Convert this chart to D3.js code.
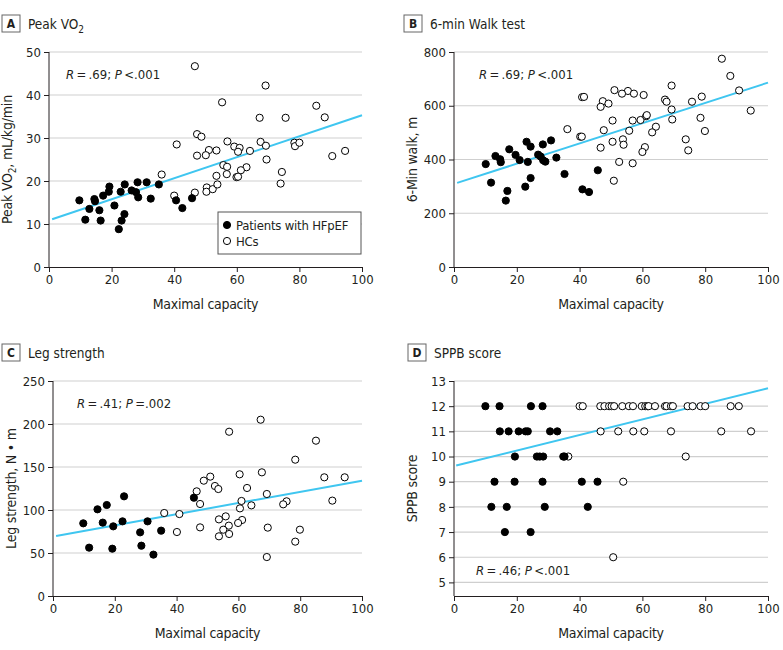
<!DOCTYPE html>
<html>
<head>
<meta charset="utf-8">
<title>Maximal capacity correlations</title>
<script src="https://d3js.org/d3.v7.min.js"></script>
<style>
  body { margin: 0; background: #fff; }
  svg text { font-family: "DejaVu Sans Condensed", "Liberation Sans Narrow", sans-serif; fill: #231f20; }
  .grid line { stroke: #cfcfcf; stroke-width: 1.2; }
  .axis path, .axis line { stroke: #231f20; stroke-width: 1; }
  .fit { fill: none; stroke: #3fc6f0; stroke-width: 2; }
  .hf { fill: #000; stroke: #000; stroke-width: 1; }
  .hc { fill: #fff; stroke: #000; stroke-width: 1; }
</style>
</head>
<body>
<svg width="783" height="650"></svg>
<script>
// ---- data ----
var capTicks = [0, 20, 40, 60, 80, 100];

var peakTicks = [0, 10, 20, 30, 40, 50];
var peakHf = [[9.7,15.5],[11.6,11],[12.9,13.5],[14.5,15.8],[14.7,15.3],[16.1,13.2],[16.5,10.8],[17.3,16.6],
  [19.1,17.5],[19.3,18.7],[20.9,14.3],[22.3,8.8],[22.9,17.5],[23.2,10.8],[24.1,12.3],[24.2,19.2],[26.4,17.8],
  [27.8,17.4],[28.3,19.7],[28.5,16.2],[31.2,19.7],[32.5,15.9],[35.1,19.2],[40.6,15.5],[42.6,13.7],[45.7,16.0]];
var peakHc = [[46.6,46.7],[69.2,42.2],[55.3,38.3],[85.4,37.5],[88.1,34.8],[67.3,34.7],[75.6,34.7],[47.3,30.9],
  [48.7,30.3],[40.8,28.5],[57.0,29.2],[67.6,29.1],[69.3,28.2],[78.4,28.9],[78.6,28.1],[80.0,28.9],[59.2,28.0],
  [60.9,27.7],[51.1,27.2],[53.5,27.1],[50.1,26.0],[47.3,25.9],[60.4,26.8],[64.2,27.0],[94.6,27.0],[90.5,25.8],
  [69.5,25.0],[36.0,21.5],[55.7,23.7],[56.9,23.3],[53.5,21.2],[56.8,21.6],[63.1,23.2],[61.3,22.5],[59.9,20.9],
  [60.4,21.0],[74.4,22.1],[74.0,19.4],[40.0,16.6],[46.6,17.3],[50.4,18.5],[50.3,17.5],[52.3,18.1],[53.8,19.2]];
var peakFit = [[1, 11.1], [100, 35.3]];

var walkTicks = [0, 200, 400, 600, 800];
var walkHf = [[10.1,383],[11.8,314],[13.2,413],[14.7,401],[14.9,390],[16.5,247],[17.0,283],[17.6,438],
  [19.6,417],[20.9,398],[22.7,299],[23.1,466],[23.5,391],[24.4,448],[24.4,331],[26.8,418],[27.6,411],
  [28.3,456],[28.4,397],[29.1,392],[30.9,471],[32.6,407],[35.2,346],[40.9,289],[43.0,279],[45.8,360]];
var walkHc = [[85.3,775],[88.0,711],[69.3,675],[90.8,657],[51.1,658],[55.4,655],[53.5,645],[57.3,645],
  [60.4,640],[40.8,632],[41.4,633],[47.4,617],[49.2,608],[46.7,596],[67.2,623],[67.7,615],[75.8,615],
  [78.9,634],[69.3,586],[69.5,549],[78.5,555],[36.1,513],[50.5,545],[56.9,545],[59.4,547],[61.2,561],
  [61.4,565],[64.3,522],[63.1,501],[55.8,507],[47.7,509],[40.2,485],[40.7,485],[79.9,506],[73.8,475],
  [74.6,434],[94.5,582],[50.5,466],[53.8,475],[54.0,455],[46.7,444],[60.8,446],[60.0,428],[52.6,391],
  [56.9,386],[50.9,321]];
var walkFit = [[1, 313], [100, 686]];

var legTicks = [0, 50, 100, 150, 200, 250];
var legHf = [[9.8,84.5],[11.7,56.2],[14.4,100.8],[16.1,85.3],[17.4,105.8],[19.2,55.0],[19.5,81.0],
  [22.5,86.8],[23.0,115.9],[28.2,74.0],[28.6,58.5],[30.6,86.8],[32.5,48.1],[35.0,76.0],[45.6,114.3]];
var legHc = [[67.2,205],[57.0,191],[85.1,180.6],[78.4,158.5],[67.6,143.8],[60.4,141.5],[50.9,138.8],
  [87.8,138.0],[94.4,138.0],[48.8,134.1],[52.4,127.9],[53.5,124.4],[62.8,125.6],[46.5,121.7],[69.2,118.6],
  [61.0,110.5],[90.4,110.9],[75.6,110.1],[74.5,106.6],[47.6,107.0],[64.2,105.4],[60.5,101.9],[36.0,96.5],
  [40.9,95.3],[55.9,92.6],[53.7,89.1],[61.2,88.4],[59.9,84.9],[56.9,81.8],[47.6,79.8],[69.5,79.5],
  [55.1,77.1],[79.9,77.1],[40.1,74.4],[57.0,72.1],[53.7,69.4],[78.4,63.2],[69.2,45.3]];
var legFit = [[1, 69.8], [100, 134.1]];

var sppbTicks = [5, 6, 7, 8, 9, 10, 11, 12, 13];
var sppbHf = [[10.0,12],[14.5,12],[24.5,12],[28.2,12],
  [14.6,11],[17.4,11],[20.6,11],[22.8,11],[23.5,11],[30.6,11],[32.9,11],
  [19.4,10],[26.4,10],[27.3,10],[28.4,10],[34.8,10],[35.2,10],
  [12.9,9],[19.3,9],[28.2,9],[40.7,9],[45.7,9],
  [11.9,8],[16.8,8],[28.9,8],[42.6,8],
  [16.2,7],[24.4,7]];
var sppbHc = [[40.0,12],[41.0,12],[46.6,12],[47.9,12],[49.4,12],[50.2,12],[51.0,12],[53.6,12],[55.7,12],
  [57.0,12],[59.8,12],[60.9,12],[61.6,12],[62.0,12],[64.0,12],[67.2,12],[67.7,12],[69.1,12],[69.7,12],
  [74.4,12],[76.0,12],[78.5,12],[80.0,12],[88.1,12],[90.7,12],
  [46.7,11],[52.3,11],[57.1,11],[60.6,11],[69.1,11],[85.1,11],[94.6,11],
  [36.4,10],[73.8,10],[53.9,9],[50.7,6]];
var sppbFit = [[0.7, 9.64], [100, 12.71]];

var legendLabels = ["Patients with HFpEF", "HCs"];

var svg = d3.select("svg");
var thin = "\u2009";

function panel(o) {
  var g = svg.append("g");
  var x = d3.scaleLinear().domain([0, 100]).range([o.left, o.right]);
  var y = d3.scaleLinear().domain(o.yDomain).range([o.bottom, o.top]);

  // panel letter + title
  g.append("rect").attr("x", o.boxX).attr("y", o.boxY).attr("width", 18).attr("height", 17)
    .attr("fill", "#fff").attr("stroke", "#666").attr("stroke-width", 1);
  g.append("text").attr("x", o.boxX + 9).attr("y", o.boxY + 13).attr("text-anchor", "middle")
    .attr("font-weight", "bold").attr("font-size", 12).text(o.letter);
  var t = g.append("text").attr("x", o.boxX + 26).attr("y", o.boxY + 14).attr("font-size", 13.5);
  t.append("tspan").text(o.title);
  if (o.titleSub) t.append("tspan").attr("font-size", 10).attr("dy", 4).text(o.titleSub);

  // gridlines
  g.append("g").attr("class", "grid").selectAll("line")
    .data(o.yTicks.filter(function(d) { return y(d) < o.bottom - 0.5; }))
    .enter().append("line")
    .attr("x1", o.left).attr("x2", o.right)
    .attr("y1", function(d) { return y(d); }).attr("y2", function(d) { return y(d); });

  // axes
  var ya = g.append("g").attr("class", "axis").attr("transform", "translate(" + o.left + ",0)")
    .call(d3.axisLeft(y).tickValues(o.yTicks).tickSize(5).tickSizeOuter(0).tickPadding(3));
  g.append("g").attr("class", "axis").attr("transform", "translate(0," + o.bottom + ")")
    .call(d3.axisBottom(x).tickValues(capTicks).tickSize(5).tickSizeOuter(0).tickPadding(3));
  g.selectAll(".axis text").attr("font-size", 13).attr("fill", "#231f20")
    .attr("font-family", "DejaVu Sans Condensed, Liberation Sans Narrow, sans-serif");
  ya.select(".domain").attr("d", "M0," + o.bottom + "V" + o.top);

  // axis titles
  g.append("text").attr("x", (o.left + o.right) / 2).attr("y", o.bottom + 42)
    .attr("text-anchor", "middle").attr("font-size", 14).attr("letter-spacing", -0.3)
    .text("Maximal capacity");
  var yl = g.append("text")
    .attr("transform", "translate(" + (o.left - 37) + "," + ((o.top + o.bottom) / 2) + ") rotate(-90)")
    .attr("text-anchor", "middle").attr("font-size", 14).attr("letter-spacing", -0.2);
  yl.append("tspan").text(o.yLabel[0]);
  if (o.yLabel.length > 1) {
    yl.append("tspan").attr("font-size", 10).attr("dy", 4).text(o.yLabel[1]);
    yl.append("tspan").attr("dy", -4).text(o.yLabel[2]);
  }

  // fit line
  var line = d3.line().x(function(d) { return x(d[0]); }).y(function(d) { return y(d[1]); });
  g.append("path").attr("class", "fit").attr("d", line(o.fit));

  // points
  g.selectAll("circle.hc").data(o.hc).enter().append("circle").attr("class", "hc")
    .attr("cx", function(d) { return x(d[0]); }).attr("cy", function(d) { return y(d[1]); }).attr("r", 3.6);
  g.selectAll("circle.hf").data(o.hf).enter().append("circle").attr("class", "hf")
    .attr("cx", function(d) { return x(d[0]); }).attr("cy", function(d) { return y(d[1]); }).attr("r", 3.6);

  // stats text
  var st = g.append("text").attr("x", o.statX).attr("y", o.statY).attr("font-size", 13);
  st.append("tspan").attr("font-style", "italic").text("R");
  st.append("tspan").text(thin + "=" + thin + o.r + "; ");
  st.append("tspan").attr("font-style", "italic").text("P");
  st.append("tspan").text(thin + o.p.charAt(0) + o.p.slice(1));

  return { g: g, x: x, y: y };
}

var pa = panel({ letter: "A", title: "Peak VO", titleSub: "2", boxX: 2, boxY: 15,
  left: 49, right: 362, top: 52, bottom: 267, yDomain: [0, 50], yTicks: peakTicks,
  yLabel: ["Peak VO", "2", ", mL/kg/min"], hf: peakHf, hc: peakHc, fit: peakFit,
  r: ".69", p: "<.001", statX: 66, statY: 79 });

panel({ letter: "B", title: "6-min Walk test", boxX: 404, boxY: 15,
  left: 454, right: 768, top: 52, bottom: 267, yDomain: [0, 800], yTicks: walkTicks,
  yLabel: ["6-Min walk, m"], hf: walkHf, hc: walkHc, fit: walkFit,
  r: ".69", p: "<.001", statX: 479, statY: 79 });

panel({ letter: "C", title: "Leg strength", boxX: 2, boxY: 344,
  left: 53, right: 362, top: 381, bottom: 596, yDomain: [0, 250], yTicks: legTicks,
  yLabel: ["Leg strength, N \u2022 m"], hf: legHf, hc: legHc, fit: legFit,
  r: ".41", p: "=.002", statX: 77, statY: 408 });

panel({ letter: "D", title: "SPPB score", boxX: 408, boxY: 344,
  left: 454, right: 768, top: 381, bottom: 596, yDomain: [4.46, 13], yTicks: sppbTicks,
  yLabel: ["SPPB score"], hf: sppbHf, hc: sppbHc, fit: sppbFit,
  r: ".46", p: "<.001", statX: 476, statY: 575 });

// legend in panel A
var lg = pa.g.append("g");
lg.append("rect").attr("x", 218).attr("y", 212).attr("width", 143).attr("height", 42)
  .attr("fill", "#fff").attr("stroke", "#555").attr("stroke-width", 1);
lg.selectAll("circle").data(legendLabels).enter().append("circle")
  .attr("class", function(d, i) { return i === 0 ? "hf" : "hc"; })
  .attr("cx", 227).attr("cy", function(d, i) { return 225 + i * 16; }).attr("r", 3.6);
lg.selectAll("text").data(legendLabels).enter().append("text")
  .attr("x", 236).attr("y", function(d, i) { return 230 + i * 16; })
  .attr("font-size", 13).attr("letter-spacing", -0.2).text(function(d) { return d; });
</script>
</body>
</html>
